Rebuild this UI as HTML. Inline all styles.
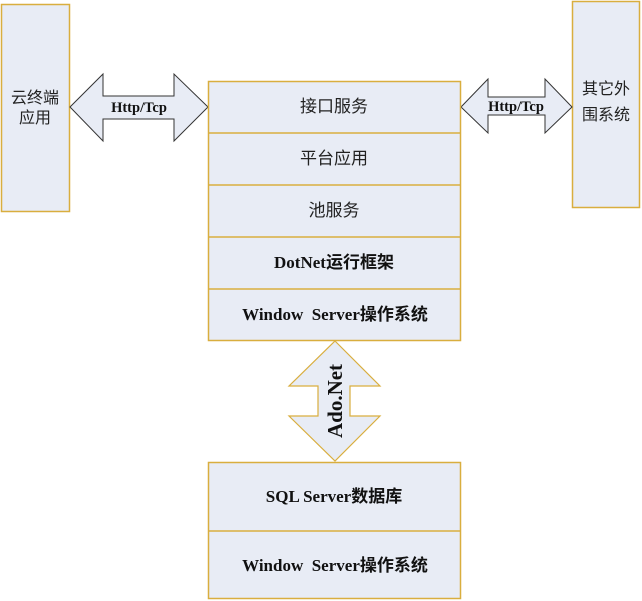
<!DOCTYPE html>
<html>
<head>
<meta charset="utf-8">
<style>
html,body{margin:0;padding:0;background:#fff;}
svg{display:block;}
.cj{font-family:"Liberation Serif","Noto Sans CJK SC",sans-serif;font-size:16px;fill:#222;}
.b{font-family:"Liberation Serif","Noto Sans CJK SC",serif;font-weight:bold;font-size:17px;fill:#111;}
</style>
</head>
<body>
<svg width="642" height="601" viewBox="0 0 642 601" xmlns="http://www.w3.org/2000/svg">
  <!-- left box -->
  <rect x="1.5" y="4.5" width="68" height="207" fill="#e8ecf5" stroke="#d9ae3e" stroke-width="1.5"/>
  <text class="cj" x="35" y="103" text-anchor="middle">云终端</text>
  <text class="cj" x="35" y="123" text-anchor="middle">应用</text>

  <!-- right box -->
  <rect x="572.5" y="1.5" width="67" height="206" fill="#e8ecf5" stroke="#d9ae3e" stroke-width="1.5"/>
  <text class="cj" x="606" y="94" text-anchor="middle">其它外</text>
  <text class="cj" x="606" y="120" text-anchor="middle">围系统</text>

  <!-- left arrow -->
  <polygon points="70,107 103,74 103,96 174,96 174,74 208,107 174,141 174,119 103,119 103,141" fill="#e8ecf5" stroke="#333" stroke-width="1"/>
  <text class="b" x="139" y="112" text-anchor="middle" style="font-size:14.5px">Http/Tcp</text>

  <!-- right arrow -->
  <polygon points="461,107 488,79 488,97 545,97 545,79 572,107 545,133 545,115 488,115 488,133" fill="#e8ecf5" stroke="#333" stroke-width="1"/>
  <text class="b" x="516" y="111" text-anchor="middle" style="font-size:14.5px">Http/Tcp</text>

  <!-- middle stack -->
  <rect x="208.5" y="81.5" width="252" height="259" fill="#e8ecf5" stroke="#d9ae3e" stroke-width="1.5"/>
  <line x1="208" y1="133" x2="461" y2="133" stroke="#d9ae3e" stroke-width="1.5"/>
  <line x1="208" y1="185" x2="461" y2="185" stroke="#d9ae3e" stroke-width="1.5"/>
  <line x1="208" y1="237" x2="461" y2="237" stroke="#d9ae3e" stroke-width="1.5"/>
  <line x1="208" y1="289" x2="461" y2="289" stroke="#d9ae3e" stroke-width="1.5"/>
  <text class="cj" x="334" y="112" text-anchor="middle" style="font-size:17px">接口服务</text>
  <text class="cj" x="334" y="164" text-anchor="middle" style="font-size:17px">平台应用</text>
  <text class="cj" x="334" y="216" text-anchor="middle" style="font-size:17px">池服务</text>
  <text class="b" x="334" y="268" text-anchor="middle">DotNet运行框架</text>
  <text class="b" x="335" y="320" text-anchor="middle" xml:space="preserve">Window  Server操作系统</text>

  <!-- vertical arrow -->
  <polygon points="335,341 380,386 350,386 350,416 380,416 335,461 289,416 318,416 318,386 289,386" fill="#e8ecf5" stroke="#d9ae3e" stroke-width="1.2"/>
  <text class="b" x="0" y="0" text-anchor="middle" transform="translate(342,401) rotate(-90)" style="font-size:21px">Ado.Net</text>

  <!-- bottom stack -->
  <rect x="208.5" y="462.5" width="252" height="136" fill="#e8ecf5" stroke="#d9ae3e" stroke-width="1.5"/>
  <line x1="208" y1="531" x2="461" y2="531" stroke="#d9ae3e" stroke-width="1.5"/>
  <text class="b" x="334" y="502" text-anchor="middle">SQL Server数据库</text>
  <text class="b" x="335" y="571" text-anchor="middle" xml:space="preserve">Window  Server操作系统</text>
</svg>
</body>
</html>
